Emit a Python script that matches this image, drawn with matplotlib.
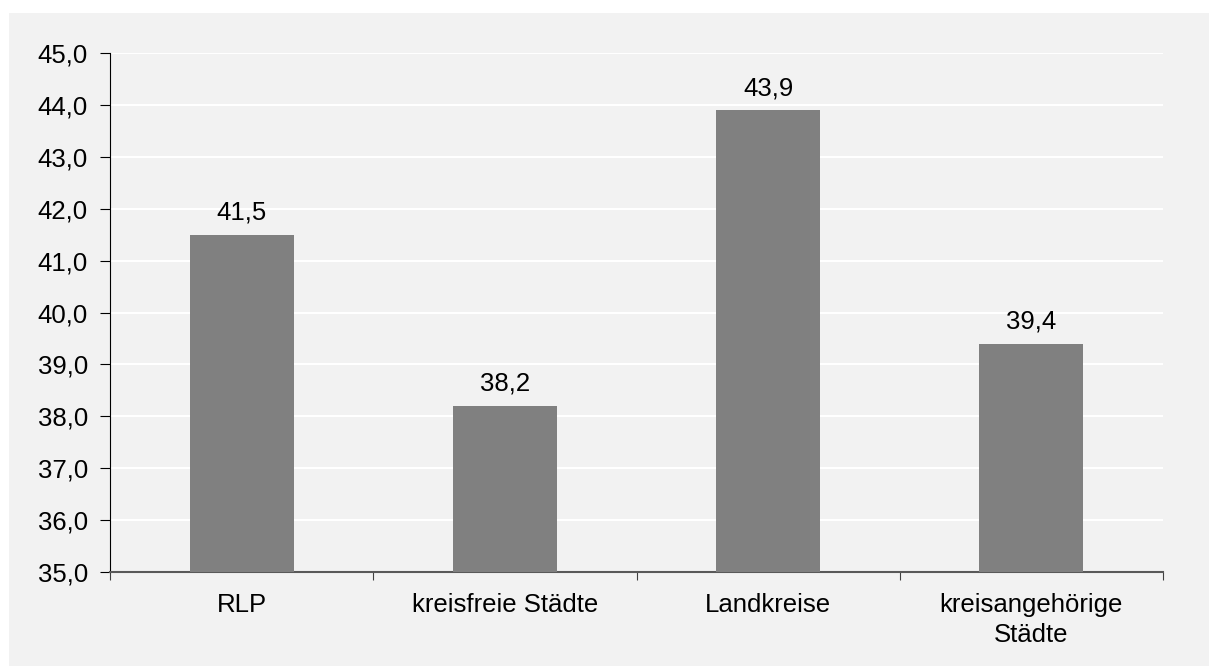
import matplotlib.pyplot as plt
from matplotlib.ticker import FuncFormatter, FixedLocator, NullFormatter

plt.rcParams['font.family'] = ['Liberation Sans', 'DejaVu Sans']

categories = ['RLP', 'kreisfreie Städte', 'Landkreise', 'kreisangehörige\nStädte']
values = [41.5, 38.2, 43.9, 39.4]
y_ticks = [35, 36, 37, 38, 39, 40, 41, 42, 43, 44, 45]

fig = plt.figure(figsize=(12.09, 6.66), dpi=100)
fig.patch.set_facecolor('white')
# grey chart area
bg = plt.Rectangle((9 / 1209, 0), 1 - 9 / 1209, 1 - 13 / 666,
                   transform=fig.transFigure, facecolor='#f2f2f2',
                   edgecolor='none', zorder=-10)
fig.patches.append(bg)

ax = fig.add_axes([110 / 1209, 1 - 572 / 666, (1163 - 110) / 1209, (572 - 53) / 666])
ax.set_facecolor('#f2f2f2')

x = list(range(len(categories)))
bars = ax.bar(x, values, width=0.395, color='#808080', bottom=0, zorder=3)
ax.set_ylim(35, 45)
ax.set_xlim(-0.5, len(categories) - 0.5)

for xi, v in zip(x, values):
    ax.text(xi, v + 0.29, f'{v:.1f}'.replace('.', ','), ha='center', va='baseline',
            fontsize=18.5, color='black')

ax.yaxis.set_major_locator(FixedLocator(y_ticks))
ax.yaxis.set_major_formatter(FuncFormatter(lambda v, p: f'{v:.1f}'.replace('.', ',')))
ax.grid(axis='y', color='white', linewidth=1.5, zorder=1)
ax.set_axisbelow(True)

# category boundaries as ticks, labels centered
ax.xaxis.set_major_locator(FixedLocator([i - 0.5 for i in range(len(categories) + 1)]))
ax.xaxis.set_major_formatter(NullFormatter())
ax.xaxis.set_minor_locator(FixedLocator(x))
ax.set_xticklabels(categories, minor=True)
for lbl in ax.get_xticklabels(minor=True):
    lbl.set_linespacing(1.35)
ax.tick_params(axis='x', which='minor', length=0, pad=15, labelsize=18.5)
ax.tick_params(axis='x', which='major', length=6, direction='out', color='#404040')
ax.tick_params(axis='y', length=7, direction='out', labelsize=18.5, pad=9)

for side in ['top', 'right']:
    ax.spines[side].set_visible(False)
ax.spines['left'].set_color('black')
ax.spines['bottom'].set_color('#595959')
ax.spines['bottom'].set_linewidth(1.5)

fig.savefig('out.png', dpi=100, facecolor=fig.get_facecolor())
